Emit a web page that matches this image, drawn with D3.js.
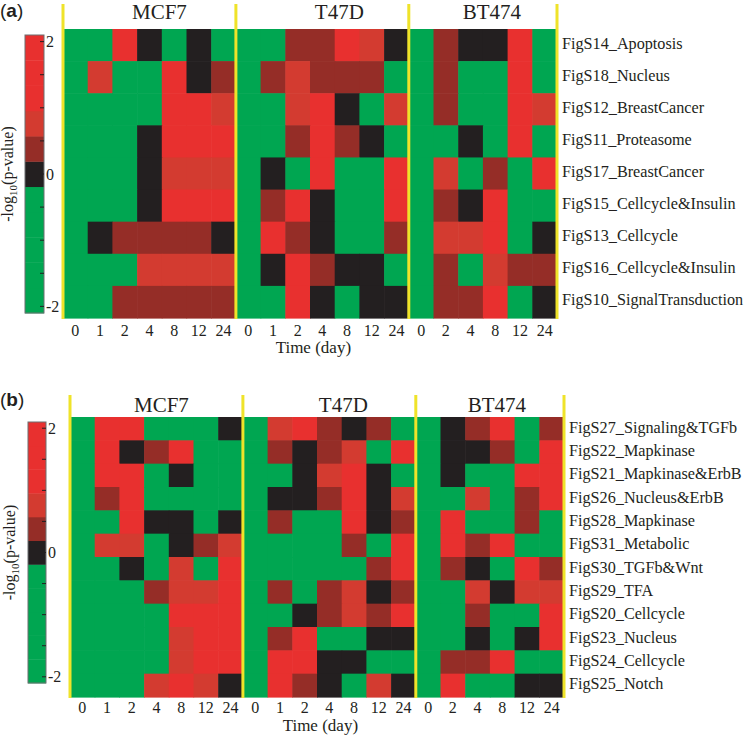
<!DOCTYPE html>
<html>
<head>
<meta charset="utf-8">
<script src="https://cdn.jsdelivr.net/npm/d3@7"></script>
<style>
  body { margin: 0; background: #fff; }
  svg { display: block; }
  text { font-family: "Liberation Serif", "Times New Roman", serif; fill: #231f20; }
</style>
</head>
<body>
<script>
// cell lines and time points (day)
const cellLines = ["MCF7", "T47D", "BT474"];
const timesMCF7 = ["0", "1", "2", "4", "8", "12", "24"];
const timesT47D = ["0", "1", "2", "4", "8", "12", "24"];
const timesBT474 = ["0", "2", "4", "8", "12", "24"];

// modules in panel (a) and (b)
const modulesA = ["FigS14_Apoptosis", "FigS18_Nucleus", "FigS12_BreastCancer", "FigS11_Proteasome",
  "FigS17_BreastCancer", "FigS15_Cellcycle&Insulin", "FigS13_Cellcycle", "FigS16_Cellcycle&Insulin",
  "FigS10_SignalTransduction"];
const modulesB = ["FigS27_Signaling&TGFb", "FigS22_Mapkinase", "FigS21_Mapkinase&ErbB", "FigS26_Nucleus&ErbB",
  "FigS28_Mapkinase", "FigS31_Metabolic", "FigS30_TGFb&Wnt", "FigS29_TFA", "FigS20_Cellcycle",
  "FigS23_Nucleus", "FigS24_Cellcycle", "FigS25_Notch"];

// -log10(p-value), one row per module; columns MCF7 | T47D | BT474
const valuesA = [
  [-1.5,-1.5,1.6,0,-1.5,0,-1.5,  -1.5,-1.5,0.4,0.4,1.6,0.8,0,  -1.5,0.4,0,0,1.6,-1.5],
  [-1.5,0.8,-1.5,-1.5,1.6,0,0.4,  -1.5,0.4,0.8,0.4,0.4,0.4,-1.5,  -1.5,0.4,-1.5,-1.5,1.6,-1.5],
  [-1.5,-1.5,-1.5,-1.5,1.6,1.6,0.8,  -1.5,-1.5,0.8,1.6,0,-1.5,0.8,  -1.5,0.4,-1.5,-1.5,1.6,0.8],
  [-1.5,-1.5,-1.5,0,1.6,1.6,1.6,  -1.5,-1.5,0.4,1.6,0.4,0,-1.5,  -1.5,-1.5,0,-1.5,1.6,-1.5],
  [-1.5,-1.5,-1.5,0,0.8,0.8,0.8,  -1.5,0,-1.5,1.6,-1.5,-1.5,1.6,  -1.5,0.8,-1.5,0.4,-1.5,1.6],
  [-1.5,-1.5,-1.5,0,1.6,1.6,1.6,  -1.5,0.4,1.6,0,-1.5,-1.5,1.6,  -1.5,0.4,0,1.6,-1.5,-1.5],
  [-1.5,0,0.4,0.4,0.4,0.4,0,  -1.5,1.6,0.4,0,-1.5,-1.5,0.4,  -1.5,0.8,0.8,1.6,-1.5,0],
  [-1.5,-1.5,-1.5,0.8,0.8,0.8,0.8,  -1.5,0,1.6,0.4,0,0,-1.5,  -1.5,0.4,-1.5,0.8,0.4,0.4],
  [-1.5,-1.5,0.4,0.4,0.4,0.4,0.4,  -1.5,-1.5,1.6,0,-1.5,0,0,  -1.5,0.4,0.4,1.6,-1.5,0]
];
const valuesB = [
  [-1.5,1.6,1.6,-1.5,-1.5,-1.5,0,  -1.5,0.8,1.6,0.4,0,0.4,-1.5,  -1.5,0,0.4,1.6,-1.5,0.4],
  [-1.5,1.6,0,0.4,1.6,-1.5,-1.5,  -1.5,0.4,0,0.4,0.8,-1.5,1.6,  -1.5,0,0,0.4,-1.5,1.6],
  [-1.5,1.6,1.6,-1.5,0,-1.5,-1.5,  -1.5,-1.5,0,0.8,1.6,0,-1.5,  -1.5,0,-1.5,-1.5,1.6,1.6],
  [-1.5,0.4,1.6,-1.5,-1.5,-1.5,-1.5,  -1.5,0,0,0.4,1.6,0,0.8,  -1.5,-1.5,0.8,-1.5,0.4,1.6],
  [-1.5,-1.5,1.6,0,0,-1.5,0,  -1.5,0.4,-1.5,-1.5,1.6,0,0.4,  -1.5,1.6,-1.5,-1.5,0.4,-1.5],
  [-1.5,0.8,0.8,-1.5,0,0.4,0.8,  -1.5,-1.5,-1.5,-1.5,0.4,-1.5,1.6,  -1.5,1.6,0.4,1.6,-1.5,-1.5],
  [-1.5,-1.5,0,-1.5,0.8,-1.5,1.6,  -1.5,-1.5,-1.5,-1.5,-1.5,0.4,1.6,  -1.5,0.4,0,-1.5,1.6,0.4],
  [-1.5,-1.5,-1.5,0.4,0.8,0.8,1.6,  -1.5,0.4,-1.5,0.4,0.8,0,0.4,  -1.5,-1.5,0.8,0,0.8,0.8],
  [-1.5,-1.5,-1.5,-1.5,1.6,1.6,1.6,  -1.5,-1.5,0,0.4,0.8,0.4,1.6,  -1.5,-1.5,0.4,-1.5,-1.5,1.6],
  [-1.5,-1.5,-1.5,-1.5,0.8,1.6,1.6,  -1.5,0.4,1.6,-1.5,-1.5,0,0,  -1.5,-1.5,0,-1.5,0,1.6],
  [-1.5,-1.5,-1.5,-1.5,0.8,1.6,1.6,  -1.5,1.6,1.6,0,0,-1.5,-1.5,  -1.5,0.4,0.4,1.6,-1.5,-1.5],
  [-1.5,-1.5,-1.5,0.8,1.6,0.8,0,  -1.5,1.6,0.4,0,-1.5,0.8,0,  -1.5,1.6,-1.5,-1.5,0,0]
];

// colour bar ticks
const legendTicks = [-2, -1.5, -1, -0.5, 0, 0.5, 1, 1.5, 2];
const legendLabels = [-2, 0, 2];

// 11 level colormap, green -> black -> red
const green = "#00a651", black = "#231f20", darkRed = "#952d27", midRed = "#d33b30", red = "#e8302f";
const colorLevels = [green, green, green, green, green, black, darkRed, midRed, red, red, red];
const legendDomain = [-2.1, 2.1];
const color = d3.scaleQuantize().domain(legendDomain).range(colorLevels);

const columns = [].concat(
  timesMCF7.map(t => "MCF7|" + t),
  timesT47D.map(t => "T47D|" + t),
  timesBT474.map(t => "BT474|" + t));

const svg = d3.select("body").append("svg")
  .attr("width", 748)
  .attr("height", 736);

function drawPanel(p) {
  const g = svg.append("g");

  const x = d3.scaleBand().domain(columns).range([p.left, p.left + 494]);
  const y = d3.scaleBand().domain(p.modules).range([p.top, p.bottom]);

  const cells = [];
  p.values.forEach((row, i) => row.forEach((v, j) => {
    cells.push({ module: p.modules[i], col: columns[j], value: v });
  }));

  g.append("g").selectAll("rect")
    .data(cells)
    .join("rect")
    .attr("x", d => x(d.col))
    .attr("y", d => y(d.module))
    .attr("width", x.bandwidth() + 0.6)
    .attr("height", y.bandwidth() + 0.6)
    .attr("fill", d => color(d.value));

  // yellow separators between cell lines
  const groups = cellLines.map(cl => columns.filter(c => c.startsWith(cl + "|")));
  const seps = groups.map(gr => x(gr[0])).concat([x.range()[1]]);
  g.append("g").selectAll("line")
    .data(seps)
    .join("line")
    .attr("x1", d => d).attr("x2", d => d)
    .attr("y1", p.sepTop).attr("y2", p.bottom + 1)
    .attr("stroke", "#efe32a")
    .attr("stroke-width", 3);

  // cell line titles
  g.append("g").selectAll("text")
    .data(groups)
    .join("text")
    .attr("x", (gr, i) => (x(gr[0]) + x(gr[gr.length - 1]) + x.bandwidth()) / 2 + p.titleShift[i])
    .attr("y", p.titleY)
    .attr("text-anchor", "middle")
    .attr("font-size", 21)
    .text((gr, i) => cellLines[i]);

  // module labels on the right
  g.append("g").selectAll("text")
    .data(p.modules)
    .join("text")
    .attr("x", x.range()[1] + p.labelGap)
    .attr("y", d => y(d) + y.bandwidth() / 2 + p.labelDy)
    .attr("dominant-baseline", "central")
    .attr("font-size", 16.2)
    .text(d => d);

  // time axis
  const xAxis = d3.axisBottom(x).tickSize(0).tickPadding(p.tickPad)
    .tickFormat(d => d.split("|")[1]);
  const ax = g.append("g")
    .attr("transform", `translate(0,${p.bottom})`)
    .call(xAxis);
  ax.select(".domain").remove();
  ax.selectAll("text")
    .attr("font-size", 16)
    .attr("fill", "#231f20");

  const t47 = groups[1];
  g.append("text")
    .attr("x", (x(t47[0]) + x(t47[t47.length - 1]) + x.bandwidth()) / 2 - 9)
    .attr("y", p.timeY)
    .attr("text-anchor", "middle")
    .attr("font-size", 17)
    .text("Time (day)");

  // colour bar
  const ly = d3.scaleLinear().domain(legendDomain).range([p.legBottom, p.legTop]);
  const edges = [legendDomain[0]].concat(color.thresholds(), [legendDomain[1]]);
  const bins = colorLevels.map((c, i) => ({ lo: edges[i], hi: edges[i + 1], c: c }));
  const leg = g.append("g");
  leg.selectAll("rect")
    .data(bins)
    .join("rect")
    .attr("x", p.legLeft)
    .attr("y", d => ly(d.hi))
    .attr("width", p.legWidth)
    .attr("height", d => ly(d.lo) - ly(d.hi) + 0.4)
    .attr("fill", d => d.c);
  leg.append("rect")
    .attr("x", p.legLeft).attr("y", p.legTop)
    .attr("width", p.legWidth).attr("height", p.legBottom - p.legTop)
    .attr("fill", "none")
    .attr("stroke", "#6d6e71")
    .attr("stroke-width", 1);
  leg.selectAll("line")
    .data(legendTicks)
    .join("line")
    .attr("x1", p.legLeft + p.legWidth - 4).attr("x2", p.legLeft + p.legWidth)
    .attr("y1", d => ly(d)).attr("y2", d => ly(d))
    .attr("stroke", "#231f20")
    .attr("stroke-width", 1);
  leg.selectAll("text")
    .data(legendLabels)
    .join("text")
    .attr("x", p.legLeft + p.legWidth + 2)
    .attr("y", d => ly(d))
    .attr("dominant-baseline", "central")
    .attr("font-size", 16)
    .text(d => d);

  // colour bar title
  const yl = g.append("text")
    .attr("transform", `translate(${p.yLabelX},${(p.legTop + p.legBottom) / 2}) rotate(-90)`)
    .attr("text-anchor", "middle")
    .attr("font-size", 16);
  yl.append("tspan").text("-log");
  yl.append("tspan").attr("font-size", 11).attr("dy", 4).text("10");
  yl.append("tspan").attr("dy", -4).text("(p-value)");

  // panel letter
  const pl = g.append("text")
    .attr("x", 0)
    .attr("y", p.letterY)
    .style("font-family", "'Liberation Sans', Arial, sans-serif")
    .attr("font-size", 19);
  pl.append("tspan").text("(");
  pl.append("tspan").attr("font-weight", "bold").text(p.letter);
  pl.append("tspan").text(")");
}

drawPanel({
  letter: "a", letterY: 17,
  modules: modulesA, values: valuesA,
  left: 63, top: 29, bottom: 318, sepTop: 4,
  titleY: 19, titleShift: [10, 17, 9],
  labelGap: 5, labelDy: -1.5,
  tickPad: 7, timeY: 353,
  legLeft: 25, legWidth: 19, legTop: 35, legBottom: 313,
  yLabelX: 13
});

drawPanel({
  letter: "b", letterY: 406,
  modules: modulesB, values: valuesB,
  left: 70, top: 417, bottom: 697, sepTop: 395,
  titleY: 412, titleShift: [5, 14, 7],
  labelGap: 5, labelDy: -1,
  tickPad: 5, timeY: 731,
  legLeft: 28, legWidth: 18, legTop: 422, legBottom: 683,
  yLabelX: 15
});
</script>
</body>
</html>
